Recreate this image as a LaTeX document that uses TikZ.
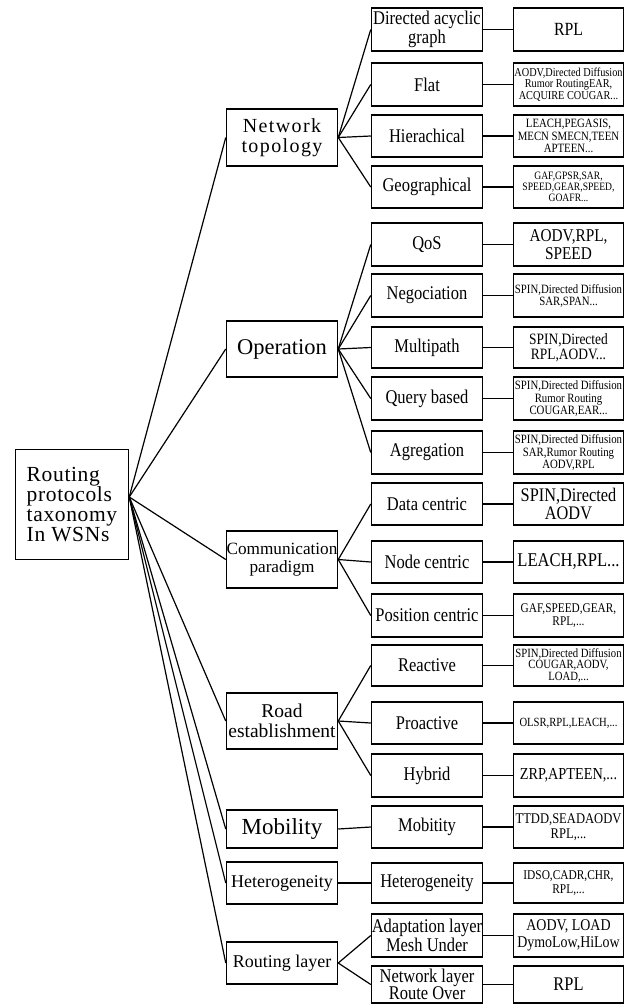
\documentclass[tikz,border=0pt]{standalone}
\usepackage{fontspec}
\setmainfont{Liberation Serif}
\newfontfamily\cf[FakeStretch=0.85]{Liberation Serif}
\newfontfamily\lsa[LetterSpace=3]{Liberation Serif}
\newfontfamily\lsb[LetterSpace=7]{Liberation Serif}
\newcommand\fsz[2]{\fontsize{#1}{#2}\selectfont}
\begin{document}
\begin{tikzpicture}[x=1pt,y=-1pt,
  box/.style={draw,line width=1.5pt,inner sep=0pt,align=center},
  lbox/.style={box,minimum width=111pt},
  mbox/.style={box,minimum width=111pt,font=\cf\fsz{19.4}{17.5}},
  rbox/.style={box,minimum width=110pt},
  ln/.style={line width=1.2pt}]
\useasboundingbox (0,0) rectangle (625,1005);

% root
\node[box,minimum width=113pt,minimum height=110pt,align=left,font=\lsa\fsz{21.5}{20}] (root) at (72,504.5) {Routing\\protocols\\taxonomy\\In WSNs};

% left column
\node[lbox,minimum height=57pt,font=\lsb\fsz{20}{20}] (nt) at (282,137.5) {Network\\topology};
\node[lbox,minimum height=56pt,font=\fsz{22.5}{22}] (op) at (282,349) {Operation};
\node[lbox,minimum height=57pt,font=\fsz{17.2}{17.5}] (cp) at (282,559.5) {Communication\\paradigm};
\node[lbox,minimum height=56pt,font=\fsz{19.5}{20}] (re) at (282,721) {Road\\establishment};
\node[lbox,minimum height=38pt,font=\fsz{23}{23}] (mob) at (282,829) {Mobility};
\node[lbox,minimum height=42pt,font=\fsz{18}{18}] (het) at (282,883) {Heterogeneity};
\node[lbox,minimum height=42pt,font=\fsz{18}{18}] (rl) at (282,963) {Routing layer};

% middle column
\node[mbox,minimum height=43pt] (m1) at (427,29.5) {Directed acyclic\\graph};
\node[mbox,minimum height=43pt] (m2) at (427,84.5) {Flat};
\node[mbox,minimum height=42pt] (m3) at (427,136) {Hierachical};
\node[mbox,minimum height=42pt] (m4) at (427,187) {Geographical};
\node[mbox,minimum height=43pt] (m5) at (427,244.5) {QoS};
\node[mbox,minimum height=43pt] (m6) at (427,295.5) {Negociation};
\node[mbox,minimum height=41pt] (m7) at (427,347.5) {Multipath};
\node[mbox,minimum height=43pt] (m8) at (427,398.5) {Query based};
\node[mbox,minimum height=43pt] (m9) at (427,452.5) {Agregation};
\node[mbox,minimum height=42pt] (m10) at (427,504) {Data centric};
\node[mbox,minimum height=42pt] (m11) at (427,562) {Node centric};
\node[mbox,minimum height=43pt] (m12) at (427,615.5) {Position centric};
\node[mbox,minimum height=41pt] (m13) at (427,665.5) {Reactive};
\node[mbox,minimum height=42pt] (m14) at (427,723) {Proactive};
\node[mbox,minimum height=43pt] (m15) at (427,775.5) {Hybrid};
\node[mbox,minimum height=42pt] (m16) at (427,827) {Mobitity};
\node[mbox,minimum height=40pt] (m17) at (427,883) {Heterogeneity};
\node[mbox,minimum height=43pt] (m18) at (427,935.5) {Adaptation layer\\Mesh Under};
\node[mbox,minimum height=37pt] (m19) at (427,984.5) {Network layer\\Route Over};

% right column
\node[rbox,minimum height=43pt,font=\cf\fsz{18.6}{18}] (r1) at (568.5,29.5) {RPL};
\node[rbox,minimum height=43pt,font=\cf\fsz{12.1}{11.5}] (r2) at (568.5,84.5) {AODV,Directed Diffusion\\Rumor RoutingEAR,\\ACQUIRE COUGAR...};
\node[rbox,minimum height=42pt,font=\cf\fsz{12.7}{12.5}] (r3) at (568.5,136) {LEACH,PEGASIS,\\MECN SMECN,TEEN\\APTEEN...};
\node[rbox,minimum height=42pt,font=\cf\fsz{11.3}{11.2}] (r4) at (568.5,187) {GAF,GPSR,SAR,\\SPEED,GEAR,SPEED,\\GOAFR...};
\node[rbox,minimum height=43pt,font=\cf\fsz{18}{17.5}] (r5) at (568.5,244.5) {AODV,RPL,\\SPEED};
\node[rbox,minimum height=43pt,font=\cf\fsz{12.7}{12}] (r6) at (568.5,295.5) {SPIN,Directed Diffusion\\SAR,SPAN...};
\node[rbox,minimum height=41pt,font=\cf\fsz{15.8}{15}] (r7) at (568.5,347.5) {SPIN,Directed\\RPL,AODV...};
\node[rbox,minimum height=43pt,font=\cf\fsz{12.7}{12.2}] (r8) at (568.5,398.5) {SPIN,Directed Diffusion\\Rumor Routing\\COUGAR,EAR...};
\node[rbox,minimum height=43pt,font=\cf\fsz{12.7}{12.2}] (r9) at (568.5,452.5) {SPIN,Directed Diffusion\\SAR,Rumor Routing\\AODV,RPL};
\node[rbox,minimum height=42pt,font=\cf\fsz{19.2}{18.5}] (r10) at (568.5,504) {SPIN,Directed\\AODV};
\node[rbox,minimum height=42pt,font=\cf\fsz{19.5}{19}] (r11) at (568.5,562) {LEACH,RPL...};
\node[rbox,minimum height=43pt,font=\cf\fsz{13.3}{13.5}] (r12) at (568.5,615.5) {GAF,SPEED,GEAR,\\RPL,...};
\node[rbox,minimum height=41pt,font=\cf\fsz{12.6}{11.8}] (r13) at (568.5,665.5) {SPIN,Directed Diffusion\\COUGAR,AODV,\\LOAD,...};
\node[rbox,minimum height=42pt,font=\cf\fsz{12.5}{12}] (r14) at (568.5,723) {OLSR,RPL,LEACH,...};
\node[rbox,minimum height=43pt,font=\cf\fsz{16.8}{16}] (r15) at (568.5,775.5) {ZRP,APTEEN,...};
\node[rbox,minimum height=42pt,font=\cf\fsz{14.8}{14.5}] (r16) at (568.5,827) {TTDD,SEADAODV\\RPL,...};
\node[rbox,minimum height=40pt,font=\cf\fsz{13.4}{14}] (r17) at (568.5,883) {IDSO,CADR,CHR,\\RPL,...};
\node[rbox,minimum height=43pt,font=\cf\fsz{16.4}{17}] (r18) at (568.5,935.5) {AODV, LOAD\\DymoLow,HiLow};
\node[rbox,minimum height=37pt,font=\cf\fsz{19.3}{19}] (r19) at (568.5,984.5) {RPL};

% connectors
\coordinate (ro) at ([yshift=7.5pt]root.east);
\foreach \t in {nt,op,cp,re,mob,het,rl} \draw[ln] (ro) -- (\t.west);
\foreach \t in {m1,m2,m3,m4} \draw[ln] (nt.east) -- (\t.west);
\foreach \t in {m5,m6,m7,m8,m9} \draw[ln] (op.east) -- (\t.west);
\foreach \t in {m10,m11,m12} \draw[ln] (cp.east) -- (\t.west);
\foreach \t in {m13,m14,m15} \draw[ln] (re.east) -- (\t.west);
\draw[ln] (mob.east) -- (m16.west);
\draw[ln] (het.east) -- (m17.west);
\foreach \t in {m18,m19} \draw[ln] (rl.east) -- (\t.west);
\foreach \i in {1,...,19} \draw[ln] (m\i.east) -- (r\i.west);
\end{tikzpicture}
\end{document}
